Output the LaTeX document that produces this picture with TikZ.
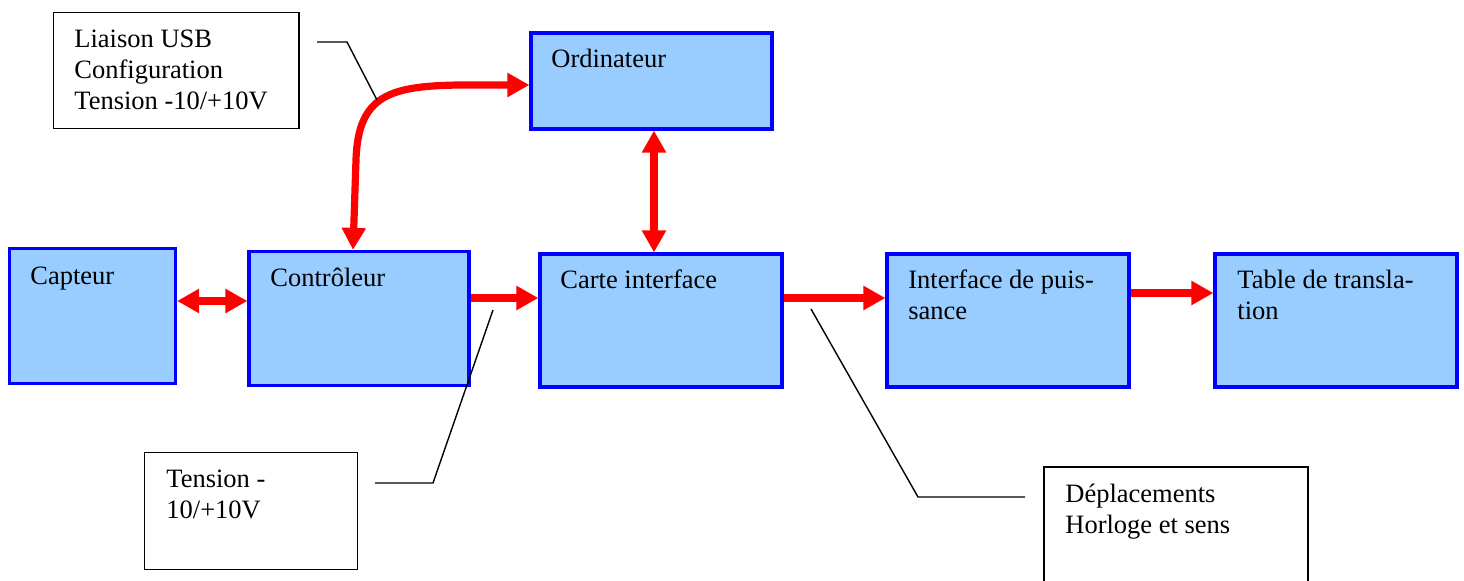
\documentclass[tikz,border=0pt]{standalone}
\usepackage{fontspec}
\setmainfont{Liberation Serif}
\usetikzlibrary{arrows.meta,fit}
\definecolor{boxfill}{HTML}{99CCFF}
\definecolor{boxline}{HTML}{0000FF}
\definecolor{arrred}{HTML}{FF0000}
\tikzset{
  bluebox/.style={draw=boxline, fill=boxfill, line width=1.6pt, inner sep=0pt, rectangle},
  notebox/.style={draw=black, fill=white, line width=0.9pt, inner sep=0pt, rectangle},
  lbl/.style={anchor=base west, inner sep=0pt, align=left, font=\fontsize{13.25pt}{15.3pt}\selectfont},
  arr/.style={draw=arrred, line width=3.6pt, arrows={-Triangle[length=11pt,width=11.5pt]}},
  darr/.style={draw=arrred, line width=3.6pt, arrows={Triangle[length=11pt,width=11.5pt]-Triangle[length=11pt,width=11.5pt]}},
  callout/.style={draw=black, line width=0.7pt},
}
\begin{document}
\begin{tikzpicture}[x=0.5pt,y=-0.5pt]
\clip (0,0) rectangle (1464,581);
\fill[white] (0,0) rectangle (1464,581);
% blue boxes
\node[bluebox, fit={(9.5,248.5) (175.5,383.5)}] (cap) {};
\node[bluebox, fit={(249,251.5) (469,385.5)}] (ctl) {};
\node[bluebox, fit={(531,33) (772,129)}] (ord) {};
\node[bluebox, fit={(540,254) (782,387)}] (carte) {};
\node[bluebox, fit={(887,254) (1129,387)}] (idp) {};
\node[bluebox, fit={(1215,254) (1457,387)}] (tab) {};
% note boxes
\node[notebox, fit={(53.5,12.5) (299,128.5)}] (liaison) {};
\node[notebox, fit={(144.5,452.5) (357.5,569.5)}] (tension) {};
\node[notebox, fit={(1044,467) (1308,620)}] (depl) {};
% labels (base = baseline of last line)
\node[lbl] (tcap) at (30,285) {Capteur};
\node[lbl] (tctl) at (270,287) {Contrôleur};
\node[lbl] (tord) at (551,68) {Ordinateur};
\node[lbl] (tcarte) at (560,289) {Carte interface};
\node[lbl] (tidp) at (908,319.6) {Interface de puis-\\sance};
\node[lbl] (ttab) at (1237,319.6) {Table de transla-\\tion};
\node[lbl] (tliaison) at (74,109.2) {Liaison USB\\Configuration\\Tension -10/+10V};
\node[lbl] (ttension) at (166,518.6) {Tension -\\10/+10V};
\node[lbl] (tdepl) at (1065,533.6) {Déplacements\\Horloge et sens};
% arrows
\draw[darr] (cap.east |- 0,301) -- (ctl.west |- 0,301);
\draw[arr] (ctl.east |- 0,298) -- (carte.west |- 0,298);
\draw[arr] (carte.east |- 0,298) -- (idp.west |- 0,298);
\draw[arr] (idp.east |- 0,293) -- (tab.west |- 0,293);
\draw[darr] (ord.south -| 654,0) -- (carte.north -| 654,0);
\draw[darr] (ctl.north -| 353,0) -- (356,160) .. controls (358,95) and (390,86) .. (460,85) -- (ord.west |- 0,85);
% callouts
\coordinate (c1a) at (317,42);
\coordinate (c1b) at (347,42);
\coordinate (c1c) at (377,100);
\draw[callout] (c1a) -- (c1b) -- (c1c);
\coordinate (c2a) at (375,483);
\coordinate (c2b) at (433,483);
\coordinate (c2c) at (493,310);
\draw[callout] (c2a) -- (c2b) -- (c2c);
\coordinate (c3a) at (1025,497);
\coordinate (c3b) at (918,497);
\coordinate (c3c) at (811,309);
\draw[callout] (c3a) -- (c3b) -- (c3c);
\end{tikzpicture}
\end{document}
